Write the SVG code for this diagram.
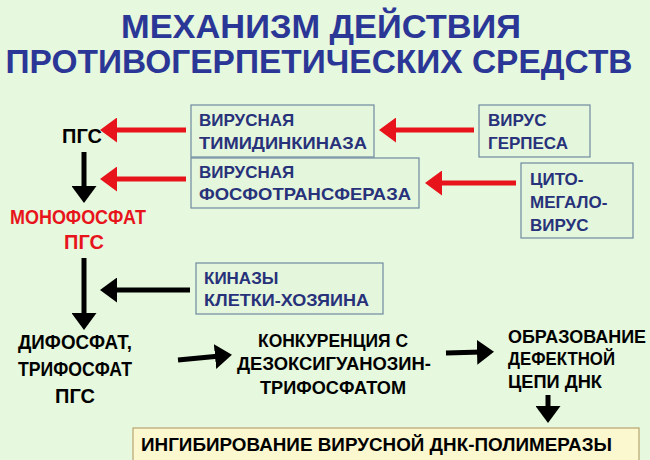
<svg xmlns="http://www.w3.org/2000/svg" width="650" height="460" viewBox="0 0 650 460">
<style>
.t{font-family:"Liberation Sans",Arial,sans-serif;font-weight:bold}
.title{font-size:33px;fill:#2b3796}
.bx{fill:#e4f6dc;stroke:#6f8aa0;stroke-width:1.2}
.bt{font-size:17px;fill:#28327a}
.m{font-size:20px;fill:#000}
.c{font-size:18px;fill:#000}
.red{stroke:#e8141b;stroke-width:5;fill:none}
.blk{stroke:#000;stroke-width:5;fill:none}
</style>
<defs>
<marker id="ar" markerWidth="5" markerHeight="5" refX="1" refY="2.5" orient="auto" markerUnits="strokeWidth"><path d="M0,0 L3.4,2.5 L0,5 z" fill="#e8141b"/></marker>
<marker id="ab" markerWidth="5" markerHeight="5" refX="1" refY="2.5" orient="auto" markerUnits="strokeWidth"><path d="M0,0 L3.4,2.5 L0,5 z" fill="#000"/></marker>
</defs>
<rect width="650" height="460" fill="#e6f8dd"/>
<g id="title" class="t title" text-anchor="middle">
<text x="321" y="38" textLength="400" lengthAdjust="spacingAndGlyphs">МЕХАНИЗМ ДЕЙСТВИЯ</text>
<text x="319" y="73" textLength="627" lengthAdjust="spacingAndGlyphs">ПРОТИВОГЕРПЕТИЧЕСКИХ СРЕДСТВ</text>
</g>
<g id="pgs"><text class="t m" x="82" y="143" text-anchor="middle">ПГС</text></g>
<g id="monophosphate" class="t m" text-anchor="middle">
<text x="78" y="224" style="fill:#e8141b" textLength="136" lengthAdjust="spacingAndGlyphs">МОНОФОСФАТ</text>
<text x="84" y="249" style="fill:#e8141b">ПГС</text>
</g>
<g id="tk"><rect class="bx" x="191" y="105" width="183" height="52"/>
<text class="t bt" x="199" y="126">ВИРУСНАЯ</text><text class="t bt" x="199" y="149" textLength="168" lengthAdjust="spacingAndGlyphs">ТИМИДИНКИНАЗА</text></g>
<g id="pt"><rect class="bx" x="191" y="158" width="228" height="50"/>
<text class="t bt" x="199" y="178">ВИРУСНАЯ</text><text class="t bt" x="199" y="200" textLength="212" lengthAdjust="spacingAndGlyphs">ФОСФОТРАНСФЕРАЗА</text></g>
<g id="herpes"><rect class="bx" x="479" y="105" width="111" height="52"/>
<text class="t bt" x="488" y="126">ВИРУС</text><text class="t bt" x="488" y="149">ГЕРПЕСА</text></g>
<g id="cmv"><rect class="bx" x="521" y="163" width="112" height="75"/>
<text class="t bt" x="530" y="185">ЦИТО-</text><text class="t bt" x="530" y="208">МЕГАЛО-</text><text class="t bt" x="530" y="231">ВИРУС</text></g>
<g id="kinases"><rect class="bx" x="196" y="263" width="187" height="51"/>
<text class="t bt" x="204" y="284">КИНАЗЫ</text><text class="t bt" x="204" y="306" textLength="165" lengthAdjust="spacingAndGlyphs">КЛЕТКИ-ХОЗЯИНА</text></g>
<g id="diphos" class="t m" text-anchor="middle">
<text x="75" y="349" textLength="114" lengthAdjust="spacingAndGlyphs">ДИФОСФАТ,</text><text x="75" y="376" textLength="114" lengthAdjust="spacingAndGlyphs">ТРИФОСФАТ</text><text x="75" y="403">ПГС</text></g>
<g id="compet" class="t c" text-anchor="middle">
<text x="333" y="347" textLength="150" lengthAdjust="spacingAndGlyphs">КОНКУРЕНЦИЯ С</text><text x="334" y="370" textLength="194" lengthAdjust="spacingAndGlyphs">ДЕЗОКСИГУАНОЗИН-</text><text x="333" y="394" textLength="146" lengthAdjust="spacingAndGlyphs">ТРИФОСФАТОМ</text></g>
<g id="defect" class="t c">
<text x="508" y="343" textLength="138" lengthAdjust="spacingAndGlyphs">ОБРАЗОВАНИЕ</text><text x="508" y="365" textLength="107" lengthAdjust="spacingAndGlyphs">ДЕФЕКТНОЙ</text><text x="508" y="388" textLength="94" lengthAdjust="spacingAndGlyphs">ЦЕПИ ДНК</text></g>
<g id="inhib"><rect x="133" y="428" width="506" height="34" fill="#fbf7cf" stroke="#b9a470" stroke-width="1.2"/>
<text class="t c" x="141" y="451" textLength="471" lengthAdjust="spacingAndGlyphs">ИНГИБИРОВАНИЕ ВИРУСНОЙ ДНК-ПОЛИМЕРАЗЫ</text></g>
<g id="connectors">
<line class="red" x1="186" y1="130" x2="112" y2="130" marker-end="url(#ar)"/>
<line class="red" x1="186" y1="179" x2="112" y2="179" marker-end="url(#ar)"/>
<line class="red" x1="474" y1="130" x2="391" y2="130" marker-end="url(#ar)"/>
<line class="red" x1="516" y1="183" x2="437" y2="183" marker-end="url(#ar)"/>
<line class="blk" x1="84" y1="152" x2="84" y2="191" marker-end="url(#ab)"/>
<line class="blk" x1="84" y1="258" x2="84" y2="318" marker-end="url(#ab)"/>
<line class="blk" x1="190" y1="290" x2="112" y2="290" marker-end="url(#ab)"/>
<line class="blk" x1="178" y1="360" x2="220" y2="356" marker-end="url(#ab)"/>
<line class="blk" x1="446" y1="353" x2="482" y2="352" marker-end="url(#ab)"/>
<line class="blk" x1="548" y1="395" x2="548" y2="411" marker-end="url(#ab)"/>
</g>
</svg>
